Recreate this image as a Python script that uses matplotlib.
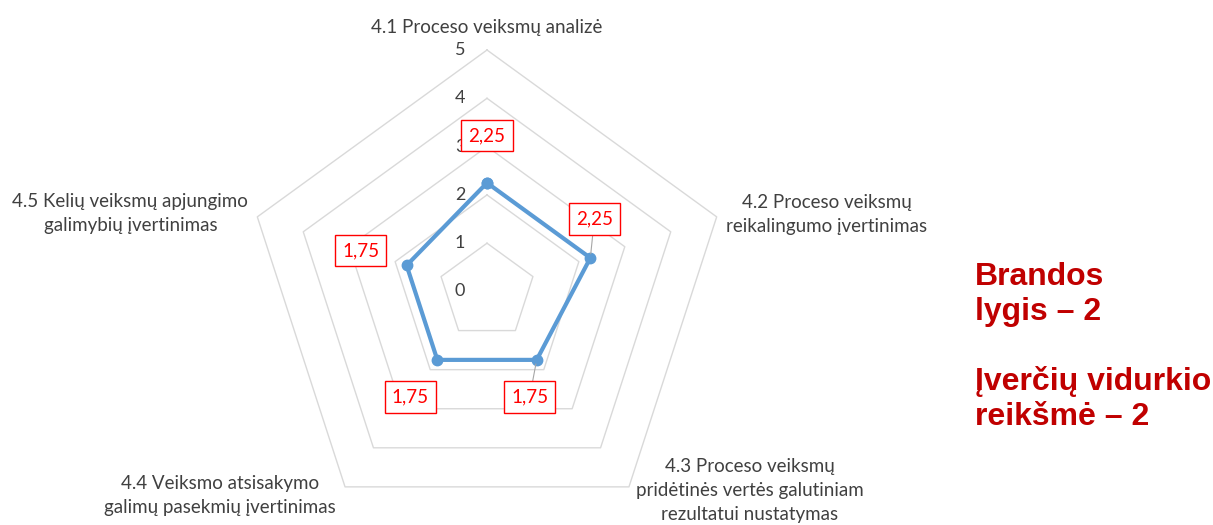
import numpy as np
import matplotlib.pyplot as plt

# chart data
categories = ['4.1 Proceso veiksmų analizė',
              '4.2 Proceso veiksmų\nreikalingumo įvertinimas',
              '4.3 Proceso veiksmų\npridėtinės vertės galutiniam\nrezultatui nustatymas',
              '4.4 Veiksmo atsisakymo\ngalimų pasekmių įvertinimas',
              '4.5 Kelių veiksmų apjungimo\ngalimybių įvertinimas']
values = [2.25, 2.25, 1.75, 1.75, 1.75]
ticks = [0, 1, 2, 3, 4, 5]
side_text = 'Brandos\nlygis – 2\n\nĮverčių vidurkio\nreikšmė – 2'

# label placement (pixels)
cat_offsets = [(0, 23), (110, 2), (121, -4), (-125, -9), (-127, 3)]
val_offsets = [(0, 47), (4, 39), (-7, -37), (-27, -37), (-46, 15)]
leaders = [False, True, True, False, False]

plt.rcParams['font.family'] = ['Lato', 'DejaVu Sans']

W, H = 1213, 525
fig = plt.figure(figsize=(W / 100, H / 100), dpi=100)
cx, cy, R = 487, 291.5, 241.5
ax = fig.add_axes([(cx - R) / W, (H - cy - R) / H, 2 * R / W, 2 * R / H], projection='polar')
ax.set_theta_zero_location('N')
ax.set_theta_direction(-1)
ax.set_ylim(0, 5)
ax.axis('off')

n = len(categories)
ang = np.linspace(0, 2 * np.pi, n, endpoint=False)
ang_c = np.append(ang, ang[0])

# pentagon grid
for t in ticks[1:]:
    ax.plot(ang_c, [t] * (n + 1), color='#d9d9d9', lw=1, zorder=1, clip_on=False)
for t in ticks:
    ax.annotate(str(t), xy=(0, t), xytext=(-27, 0), textcoords='offset pixels',
                ha='center', va='center', fontsize=13, color='#404040')

# series
v_c = values + values[:1]
ax.plot(ang_c, v_c, color='#5b9bd5', lw=3, marker='o', ms=7.5, zorder=3, clip_on=False)

for a, v, off, ld in zip(ang, values, val_offsets, leaders):
    ax.annotate(f'{v:.2f}'.replace('.', ','), xy=(a, v), xytext=off, textcoords='offset pixels',
                ha='center', va='center', fontsize=13.5, color='#ff0000', zorder=5,
                bbox=dict(boxstyle='square,pad=0.38', fc='white', ec='#ff0000', lw=1),
                arrowprops=dict(arrowstyle='-', color='#a6a6a6', lw=0.8, shrinkA=0, shrinkB=3) if ld else None)

for a, c, off in zip(ang, categories, cat_offsets):
    ax.annotate(c, xy=(a, 5), xytext=off, textcoords='offset pixels',
                ha='center', va='center', fontsize=13.5, color='#404040', linespacing=1.5)

fig.text(975 / W, 1 - 262 / H, side_text, ha='left', va='top', fontsize=23,
         fontweight='bold', color='#c00000', family='Liberation Sans', linespacing=1.2)

fig.savefig('out.png', dpi=100)
